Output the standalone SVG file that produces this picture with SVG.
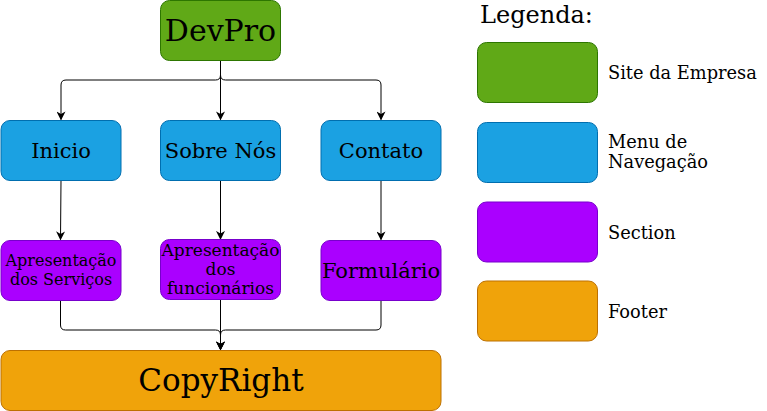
<svg xmlns="http://www.w3.org/2000/svg" width="767" height="411" viewBox="0 0 767 411">
<style>
text{font-family:"DejaVu Serif",serif;fill:#000;text-anchor:middle}
.g{fill:#60a917;stroke:#2d7600}
.b{fill:#1ba1e2;stroke:#006eaf}
.p{fill:#aa00ff;stroke:#7700cc}
.o{fill:#f0a30a;stroke:#bd7000}
.c{fill:none;stroke:#000;stroke-width:1}
.l{text-anchor:start;font-size:17.8px}
</style>
<defs>
<marker id="a" viewBox="0 0 10 10" refX="9" refY="5" markerWidth="9" markerHeight="9" markerUnits="userSpaceOnUse" orient="auto">
<path d="M0,0 L10,5 L0,10 L3,5 Z" fill="#000"/>
</marker>
</defs>
<g id="connectors">
<path class="c" d="M220.5,60.5 V75 Q220.5,80 215.5,80 H66 Q61,80 61,85 V119.5" marker-end="url(#a)"/>
<path class="c" d="M220.5,60.5 V119.5" marker-end="url(#a)"/>
<path class="c" d="M220.5,60.5 V75 Q220.5,80 225.5,80 H376 Q381,80 381,85 V119.5" marker-end="url(#a)"/>
<path class="c" d="M61,180 L60.5,239.5" marker-end="url(#a)"/>
<path class="c" d="M220.5,180 V239" marker-end="url(#a)"/>
<path class="c" d="M381,180 V239.5" marker-end="url(#a)"/>
<path class="c" d="M60.5,300 V325 Q60.5,330 65.5,330 H215.5 Q220.5,330 220.5,335 V349.5" marker-end="url(#a)"/>
<path class="c" d="M220.5,299 V349.5" marker-end="url(#a)"/>
<path class="c" d="M381,300 V325 Q381,330 376,330 H225.5 Q220.5,330 220.5,335 V349.5" marker-end="url(#a)"/>
</g>
<g id="devpro"><rect class="g" x="160.5" y="0.5" width="120" height="60" rx="9"/><text x="220.5" y="41" font-size="30">DevPro</text></g>
<g id="inicio"><rect class="b" x="1" y="120.5" width="120" height="60" rx="9"/><text x="61" y="157.5" font-size="21">Inicio</text></g>
<g id="sobre"><rect class="b" x="160.5" y="120.5" width="120" height="60" rx="9"/><text x="220.5" y="157.5" font-size="21">Sobre Nós</text></g>
<g id="contato"><rect class="b" x="321" y="120.5" width="120" height="60" rx="9"/><text x="381" y="157.5" font-size="21">Contato</text></g>
<g id="servicos"><rect class="p" x="1" y="240.5" width="120" height="60" rx="9"/><text x="61" y="266" font-size="16">Apresentação</text><text x="61" y="285" font-size="16">dos Serviços</text></g>
<g id="funcionarios"><rect class="p" x="160.5" y="239.5" width="120" height="60" rx="9"/><text x="220.5" y="256" font-size="17">Apresentação</text><text x="220.5" y="275" font-size="17">dos</text><text x="220.5" y="294" font-size="17">funcionários</text></g>
<g id="formulario"><rect class="p" x="321" y="240.5" width="120" height="60" rx="9"/><text x="381" y="278" font-size="21">Formulário</text></g>
<g id="copyright"><rect class="o" x="1" y="350.5" width="440" height="60" rx="9"/><text x="221" y="391" font-size="31">CopyRight</text></g>
<g id="legend">
<text x="480" y="23" font-size="24" style="text-anchor:start">Legenda:</text>
<rect class="g" x="477.5" y="42.5" width="120" height="60" rx="9"/>
<text class="l" x="608" y="79">Site da Empresa</text>
<rect class="b" x="477.5" y="122.5" width="120" height="60" rx="9"/>
<text class="l" x="608" y="148">Menu de</text>
<text class="l" x="608" y="168">Navegação</text>
<rect class="p" x="477.5" y="202" width="120" height="60" rx="9"/>
<text class="l" x="608" y="239">Section</text>
<rect class="o" x="477.5" y="281" width="120" height="60" rx="9"/>
<text class="l" x="608" y="318">Footer</text>
</g>
</svg>
